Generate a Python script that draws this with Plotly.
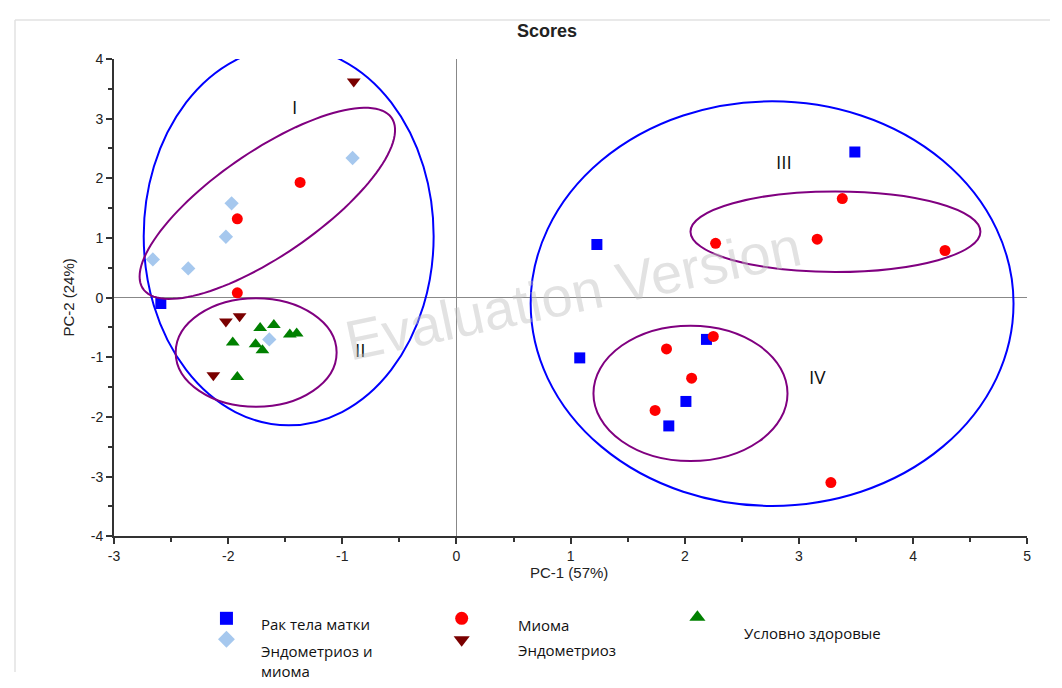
import numpy as np
import plotly.graph_objects as go

# ---------------- data ----------------
series_names = ["Рак тела матки", "Эндометриоз и миома", "Миома", "Эндометриоз", "Условно здоровые"]
legend_labels = ["Рак тела матки", "Эндометриоз и<br>миома", "Миома", "Эндометриоз", "Условно здоровые"]

rak_x = [-2.59, 3.49, 1.23, 1.08, 2.19, 2.01, 1.86]
rak_y = [-0.10, 2.44, 0.89, -1.01, -0.70, -1.74, -2.15]

endo_mioma_x = [-0.91, -1.97, -2.02, -2.66, -2.35, -1.64]
endo_mioma_y = [2.34, 1.58, 1.02, 0.64, 0.49, -0.70]

mioma_x = [-1.37, -1.92, -1.92, 3.38, 2.27, 3.16, 4.28, 2.25, 1.84, 2.06, 1.74, 3.28]
mioma_y = [1.93, 1.32, 0.08, 1.66, 0.91, 0.98, 0.79, -0.65, -0.86, -1.35, -1.89, -3.10]

endo_x = [-0.90, -2.02, -1.90, -2.13]
endo_y = [3.62, -0.40, -0.31, -1.30]

healthy_x = [-1.72, -1.60, -1.96, -1.76, -1.70, -1.46, -1.40, -1.92]
healthy_y = [-0.51, -0.46, -0.75, -0.78, -0.88, -0.62, -0.60, -1.33]

x_ticks = [-3, -2, -1, 0, 1, 2, 3, 4, 5]
x_ticklabels = ["-3", "-2", "-1", "0", "1", "2", "3", "4", "5"]
y_ticks = [-4, -3, -2, -1, 0, 1, 2, 3, 4]
y_ticklabels = ["-4", "-3", "-2", "-1", "0", "1", "2", "3", "4"]
x_title = "PC-1 (57%)"
y_title = "PC-2 (24%)"
chart_title = "Scores"
cluster_labels = ["I", "II", "III", "IV"]
cluster_label_x = [-1.42, -0.84, 2.87, 3.16]
cluster_label_y = [3.20, -0.88, 2.28, -1.33]
watermark = "Evaluation Version"

# ---------------- layout constants ----------------
# the page body keeps an 8px margin, so the figure is 16px smaller and all
# reference pixel positions are shifted by OFF
OFF = 8
W, H = 1062 - 2 * OFF, 688 - 2 * OFF
PX0, PX1, PY0, PY1 = 109 - OFF, 1031 - OFF, 52 - OFF, 541 - OFF   # plot area in pixels
XR, YR = [-3, 5], [-4, 4]
SX = (PX1 - PX0) / (XR[1] - XR[0])
SY = (PY1 - PY0) / (YR[1] - YR[0])


def fx(v):
    return v - OFF


def fy(v):
    return v - OFF


colors = ["#0000ff", "#a6c8ee", "#ff0000", "#7a0000", "#008000"]
symbols = ["square", "diamond", "circle", "triangle-down", "triangle-up"]
sizes = [11, 11, 11, 12, 12]
xs = [rak_x, endo_mioma_x, mioma_x, endo_x, healthy_x]
ys = [rak_y, endo_mioma_y, mioma_y, endo_y, healthy_y]

FONT = "Liberation Sans, Arial, sans-serif"
LFONT = "Open Sans, Noto Sans, sans-serif"

fig = go.Figure()
for name, x, y, c, s, sz in zip(series_names, xs, ys, colors, symbols, sizes):
    fig.add_trace(go.Scatter(x=x, y=y, mode="markers", name=name, showlegend=False,
                             marker=dict(symbol=s, color=c, size=sz, line=dict(width=0))))

# ---------------- custom legend (pixel overlay axes) ----------------
leg_marker_px = [(222.5, 625), (222.5, 646.5), (460, 625), (460, 647), (698, 624)]
leg_text_px = [(255, 631), (255, 669), (515, 632), (515, 657), (743, 640)]
for i in range(5):
    fig.add_trace(go.Scatter(x=[fx(leg_marker_px[i][0])], y=[fy(leg_marker_px[i][1])], mode="markers",
                             xaxis="x2", yaxis="y2", showlegend=False, hoverinfo="skip",
                             marker=dict(symbol=symbols[i], color=colors[i], size=sizes[i] + 2,
                                         line=dict(width=0))))

annotations = []
for i in range(5):
    annotations.append(dict(x=fx(leg_text_px[i][0]), y=fy(leg_text_px[i][1]), xref="x2", yref="y2",
                            text=legend_labels[i], showarrow=False, xanchor="left", yanchor="middle",
                            align="left", font=dict(family=LFONT, size=15, color="#111")))

# cluster labels
for t, x, y in zip(cluster_labels, cluster_label_x, cluster_label_y):
    annotations.append(dict(x=x, y=y, xref="x", yref="y", text=t, showarrow=False,
                            font=dict(family=LFONT, size=19, color="#111")))

# titles
annotations.append(dict(x=fx(546.5), y=fy(23), xref="x2", yref="y2", text="<b>" + chart_title + "</b>",
                        showarrow=False, font=dict(family=FONT, size=18, color="#222")))
annotations.append(dict(x=fx(568), y=fy(578), xref="x2", yref="y2", text=x_title, showarrow=False,
                        font=dict(family=FONT, size=15, color="#222")))
annotations.append(dict(x=fx(63), y=fy(296), xref="x2", yref="y2", text=y_title, showarrow=False,
                        textangle=-90, font=dict(family=FONT, size=15, color="#222")))
# watermark
annotations.append(dict(x=fx(572), y=fy(292), xref="x2", yref="y2", text=watermark, showarrow=False,
                        textangle=-12, font=dict(family=FONT, size=56, color="rgba(190,190,190,0.45)")))


# ---------------- ellipses ----------------
def rot_ellipse_path(cx, cy, a_px, b_px, ang_deg, n=120):
    t = np.linspace(0, 2 * np.pi, n)
    th = np.deg2rad(ang_deg)
    dx = a_px * np.cos(t) * np.cos(th) - b_px * np.sin(t) * np.sin(th)
    dy = a_px * np.cos(t) * np.sin(th) + b_px * np.sin(t) * np.cos(th)
    px = cx + dx / SX
    py = cy + dy / SY
    return "M " + " L ".join(f"{a:.4f},{b:.4f}" for a, b in zip(px, py)) + " Z"


shapes = [
    dict(type="circle", xref="x", yref="y", x0=-2.74, x1=-0.20, y0=-2.14, y1=4.20,
         line=dict(color="#0000ff", width=2)),
    dict(type="circle", xref="x", yref="y", x0=0.65, x1=4.88, y0=-3.49, y1=3.29,
         line=dict(color="#0000ff", width=2)),
    dict(type="path", xref="x", yref="y", path=rot_ellipse_path(-1.657, 1.58, 153, 53, 35),
         line=dict(color="#800080", width=2)),
    dict(type="circle", xref="x", yref="y", x0=-2.46, x1=-1.05, y0=-1.83, y1=-0.01,
         line=dict(color="#800080", width=2)),
    dict(type="circle", xref="x", yref="y", x0=2.05, x1=4.59, y0=0.43, y1=1.78,
         line=dict(color="#800080", width=2)),
    dict(type="circle", xref="x", yref="y", x0=1.20, x1=2.90, y0=-2.74, y1=-0.47,
         line=dict(color="#800080", width=2)),
    dict(type="line", xref="paper", yref="paper", x0=fx(9) / W, x1=1, y0=1 - fy(12) / H, y1=1 - fy(12) / H,
         line=dict(color="#e2e2e2", width=1.5)),
    dict(type="line", xref="paper", yref="paper", x0=fx(9) / W, x1=fx(9) / W, y0=0, y1=1 - fy(12) / H,
         line=dict(color="#e2e2e2", width=1.5)),
]

axis_common = dict(showgrid=False, showline=True, linecolor="#333", linewidth=2,
                   ticks="outside", ticklen=6, tickwidth=2, tickcolor="#333",
                   zeroline=True, zerolinecolor="#888", zerolinewidth=1,
                   tickfont=dict(family=FONT, size=14, color="#222"), fixedrange=True,
                   minor=dict(dtick=0.5, ticks="outside", ticklen=4, tickwidth=2,
                              tickcolor="#333", showgrid=False))

fig.update_layout(
    width=W, height=H, margin=dict(l=0, r=0, t=0, b=0),
    paper_bgcolor="white", plot_bgcolor="rgba(0,0,0,0)", showlegend=False,
    xaxis=dict(domain=[PX0 / W, PX1 / W], range=XR, tickvals=x_ticks, ticktext=x_ticklabels,
               anchor="y", **axis_common),
    yaxis=dict(domain=[1 - PY1 / H, 1 - PY0 / H], range=YR, tickvals=y_ticks, ticktext=y_ticklabels,
               anchor="x", **axis_common),
    xaxis2=dict(domain=[0, 1], range=[0, W], visible=False, fixedrange=True, anchor="y2"),
    yaxis2=dict(domain=[0, 1], range=[H, 0], visible=False, fixedrange=True, anchor="x2"),
    shapes=shapes, annotations=annotations,
)

fig.write_html("out.html", config={"displayModeBar": False})
